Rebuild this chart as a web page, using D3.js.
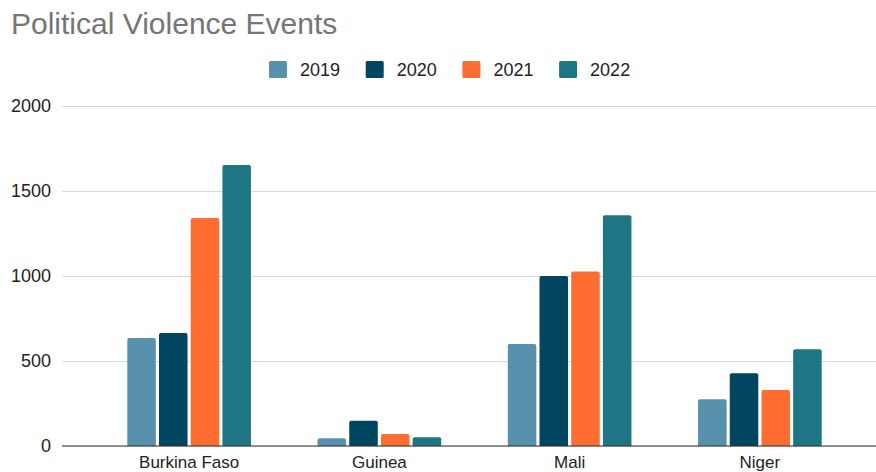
<html>
<head>
    <script src="https://d3js.org/d3.v7.min.js"></script>
    <style>
        body { margin: 0; background: #fff; }
        text { font-family: "Liberation Sans", Arial, sans-serif; }
    </style>
</head>
<body>
    <div id="chart">
        <svg width=876 height=472></svg>
    </div>
    <script>
        var countries = ["Burkina Faso", "Guinea", "Mali", "Niger"]
        var years = ["2019", "2020", "2021", "2022"]
        var v2019 = [635, 45, 600, 275]
        var v2020 = [665, 149, 1000, 428]
        var v2021 = [1341, 70, 1027, 329]
        var v2022 = [1653, 51, 1357, 569]
        var yTicks = [0, 500, 1000, 1500, 2000]
        var colors = ["#5891ae", "#014561", "#ff6d31", "#1e7584"]

        var series = [v2019, v2020, v2021, v2022]
        var svg = d3.select('#chart svg')

        var y = d3.scaleLinear().domain([0, 2000]).range([446, 106])
        var x0 = d3.scaleBand().domain(countries).range([94, 855])
            .paddingInner(0.35).paddingOuter(0.175)
        var x1 = d3.scaleBand().domain(years).range([0, x0.bandwidth()])
            .paddingInner(0.1)

        // title
        svg.append('text')
            .attr('x', 11).attr('y', 34)
            .attr('font-size', 30)
            .attr('fill', '#757575')
            .text('Political Violence Events')

        // gridlines + y labels
        var yAxis = d3.axisLeft(y).tickValues(yTicks).tickFormat(d3.format('d'))
            .tickSize(-814).tickPadding(11)
        var gy = svg.append('g')
            .attr('transform', 'translate(62,0)')
            .call(yAxis)
        gy.select('.domain').remove()
        gy.selectAll('.tick line').attr('stroke', '#d9d9d9')
        gy.selectAll('.tick text')
            .attr('font-size', 18)
            .attr('fill', '#222')
            .style('font-family', '"Liberation Sans", Arial, sans-serif')

        // bars with slightly rounded tops
        function barPath(x, yTop, w, h) {
            var r = Math.min(2, h / 2)
            return 'M' + x + ',' + (yTop + h) +
                'V' + (yTop + r) +
                'Q' + x + ',' + yTop + ' ' + (x + r) + ',' + yTop +
                'H' + (x + w - r) +
                'Q' + (x + w) + ',' + yTop + ' ' + (x + w) + ',' + (yTop + r) +
                'V' + (yTop + h) + 'Z'
        }

        var data = []
        countries.forEach(function(c, i) {
            years.forEach(function(yr, j) {
                data.push({ country: c, year: yr, value: series[j][i], color: colors[j] })
            })
        })

        svg.append('g').selectAll('path')
            .data(data)
            .enter()
            .append('path')
            .attr('fill', function(d) { return d.color })
            .attr('d', function(d) {
                var bx = x0(d.country) + x1(d.year)
                return barPath(bx, y(d.value), x1.bandwidth(), y(0) - y(d.value))
            })

        // baseline + x labels
        var xAxis = d3.axisBottom(x0).tickSize(0).tickPadding(10)
        var gx = svg.append('g')
            .attr('transform', 'translate(0,446)')
            .call(xAxis)
        gx.select('.domain').remove()
        gx.selectAll('.tick text')
            .attr('font-size', 17)
            .attr('fill', '#222')
            .style('font-family', '"Liberation Sans", Arial, sans-serif')
        svg.append('line')
            .attr('x1', 62).attr('x2', 876)
            .attr('y1', y(0)).attr('y2', y(0))
            .attr('stroke', '#333').attr('stroke-width', 1.2)

        // legend
        var legend = svg.append('g').selectAll('g')
            .data(years)
            .enter()
            .append('g')
            .attr('transform', function(d, i) { return 'translate(' + (269 + i * 96.7) + ',61)' })
        legend.append('rect')
            .attr('width', 18).attr('height', 17).attr('rx', 1.5)
            .attr('fill', function(d, i) { return colors[i] })
        legend.append('text')
            .attr('x', 31).attr('y', 15)
            .attr('font-size', 18)
            .attr('fill', '#222')
            .text(function(d) { return d })
    </script>
</body>
</html>
